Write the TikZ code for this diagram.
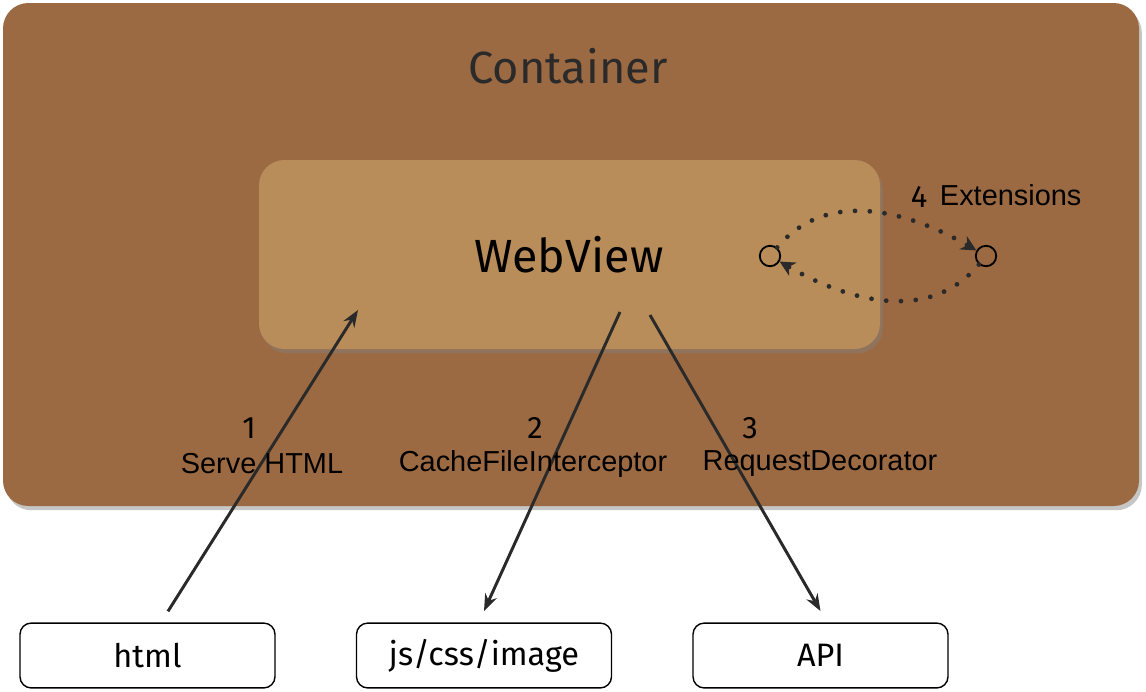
\documentclass[tikz,border=0pt]{standalone}
\usepackage{fontspec}
\setmainfont{Fira Sans}
\newfontfamily\labelfont{Liberation Sans}
\usetikzlibrary{arrows.meta,shadows}
\definecolor{crate}{HTML}{9C6A42}
\definecolor{board}{HTML}{B98D5A}
\definecolor{ink}{HTML}{2A2A2A}
\tikzset{
	panel/.style={rounded corners=18, drop shadow={shadow xshift=2pt, shadow yshift=-3pt, opacity=0.45}},
	endbox/.style={draw=black, line width=1pt, fill=white, rounded corners=8, minimum width=180.8, minimum height=46, font=\fontsize{23}{26}\selectfont},
	pencil/.style={ink, line width=2.1pt, -{Stealth[length=12pt, width=9pt]}},
	stepno/.style={font=\fontsize{22}{25}\selectfont},
	steptext/.style={font=\labelfont\fontsize{20.5}{24}\selectfont},
	hop/.style={ink, line width=3.4pt, line cap=round, dash pattern=on 0pt off 10.5pt, -{Stealth[length=11pt, width=11pt, line width=0pt]}}
}

\begin{document}
\begin{tikzpicture}[x=0.709pt, y=-0.709pt]
			%%%%% START %%%%%
			
			\useasboundingbox (0, 0) rectangle (1146, 691);
			
			\fill[crate, panel] (3, 3) rectangle (1139, 506);
			\node[ink, font=\fontsize{32}{36}\selectfont] (container) at (568, 66) {Container};
			
			\fill[board, panel] (259, 160) rectangle (880, 349);
			\node[black, font=\fontsize{33}{37}\selectfont] (webview) at (569, 255) {WebView};
			
			\node[draw=black, line width=1.3pt, circle, minimum size=14.5] (extin) at (770, 256) {};
			\node[draw=black, line width=1.3pt, circle, minimum size=14.5] (extout) at (986, 256) {};
			\draw[hop] (extin) to[out=50, in=150] (extout);
			\draw[hop] (extout) to[out=230, in=-30] (extin);
			\node[anchor=west, stepno] (four) at (906, 197) {4};
			\node[anchor=west, steptext] (ext) at (935, 195) {Extensions};
			
			\node[endbox] (html) at (147.5, 655.5) {html};
			\node[endbox] (assets) at (484, 655.5) {js/css/image};
			\node[endbox] (api) at (820.5, 655.5) {API};
			
			\coordinate (serveend) at (358, 310);
			\coordinate (cachestart) at (620, 312);
			\coordinate (decostart) at (650, 315);
			
			\draw[pencil] ([xshift=14.5]html.north) ++(0, -11) -- (serveend);
			\draw[pencil] (cachestart) -- ([yshift=8]assets.north);
			\draw[pencil] (decostart) -- ([yshift=8]api.north);
			
			\node[stepno] (one) at (249, 428) {1};
			\node[steptext] (serve) at (262, 464) {Serve HTML};
			\node[stepno] (two) at (535, 428) {2};
			\node[steptext] (cache) at (533, 464) {CacheFileInterceptor};
			\node[stepno] (three) at (750, 428) {3};
			\node[steptext] (deco) at (820, 464) {RequestDecorator};
			
			%%%%% END %%%%%
\end{tikzpicture}
\end{document}
